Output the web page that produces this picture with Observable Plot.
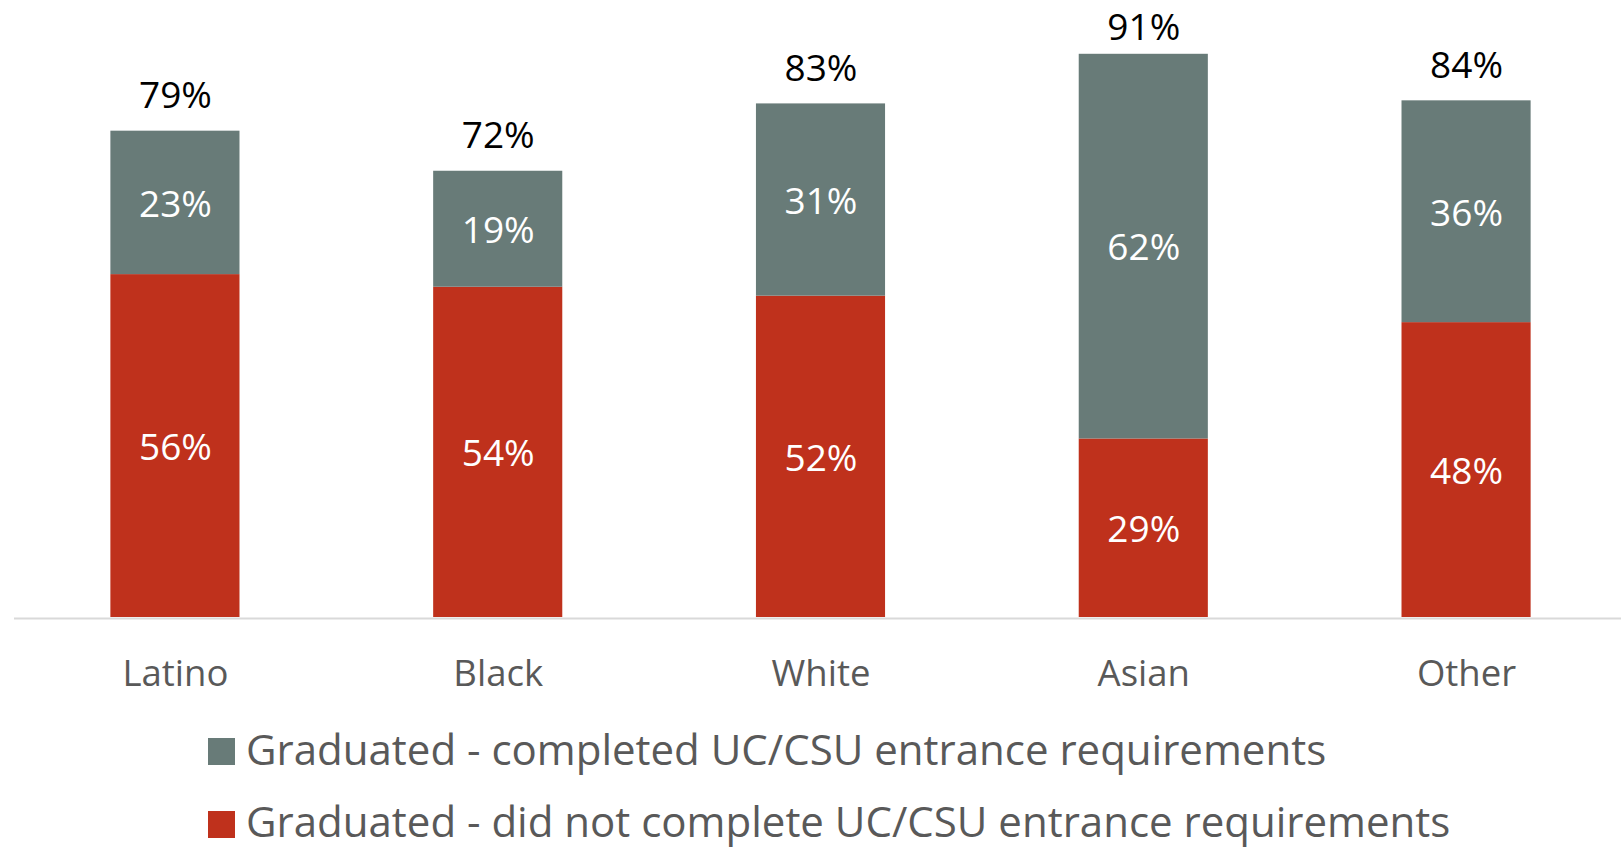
<!DOCTYPE html>
<html><head><meta charset="utf-8">
<script src="https://cdn.jsdelivr.net/npm/d3@7"></script>
<script src="https://cdn.jsdelivr.net/npm/@observablehq/plot@0.6"></script>
<style>
html,body{margin:0;padding:0;background:#fff;}
#chart svg{display:block;}
#legend{position:relative;width:1622px;height:148px;font-family:"Open Sans",sans-serif;}
.sw{position:absolute;left:208px;width:27px;height:27px;}
.lt{position:absolute;left:246px;font-size:42px;line-height:42px;color:#595959;white-space:nowrap;}
</style></head><body>
<div id="chart"></div><div id="legend"></div>
<script>
const groups = ["Latino","Black","White","Asian","Other"];
// Graduated - did not complete UC/CSU entrance requirements (%)
const notCompleted = [55.7, 53.65, 52.2, 29.0, 47.9];
// Graduated - completed UC/CSU entrance requirements (%)
const completed = [23.3, 18.84, 31.23, 62.49, 36.03];
const seriesNames = [
  "Graduated - completed UC/CSU entrance requirements",
  "Graduated - did not complete UC/CSU entrance requirements"
];
const seriesColors = ["#687b78","#bf311c"];

const rows = [];
groups.forEach((g,i)=>{
  rows.push({group:g, series:seriesNames[1], value:notCompleted[i]});
  rows.push({group:g, series:seriesNames[0], value:completed[i]});
});
const totalRows = groups.map((g,i)=>({group:g, total:notCompleted[i]+completed[i]}));
const stackOrder = [seriesNames[1], seriesNames[0]];
const pct = v => Math.round(v) + "%";

const chart = Plot.plot({
  width:1622, height:700,
  marginLeft:20, marginRight:1, marginTop:1.4, marginBottom:83,
  style:{fontFamily:"'Open Sans', sans-serif", fontSize:"37px", background:"#fff"},
  x:{domain:groups, paddingInner:0.6, paddingOuter:0.28, round:false, label:null},
  y:{domain:[0,100], axis:null},
  color:{domain:seriesNames, range:seriesColors},
  marks:[
    Plot.barY(rows, Plot.stackY({x:"group", y:"value", fill:"series", z:"series", order:stackOrder})),
    Plot.ruleY([0], {stroke:"#d9d9d9", strokeWidth:2, dy:1, insetLeft:-6}),
    Plot.text(rows, Plot.stackY({x:"group", y:"value", z:"series", order:stackOrder,
      text:d=>pct(d.value), fill:"#ffffff", fontSize:37, dy:2})),
    // total labels sit above the bar; like the source, they are kept inside the chart area near the top
    Plot.text(totalRows, {x:"group", y:d=>Math.min(d.total, 90), text:d=>pct(d.total), fill:"#000000",
      fontSize:37, lineAnchor:"bottom", dy:-23}),
    Plot.axisX({tickSize:0, tickPadding:43, fontSize:36.5, color:"#595959", label:null})
  ]
});
document.getElementById("chart").appendChild(chart);

const legend = document.getElementById("legend");
const swTops = [38,111];
const txtTops = [27.7,100.4];
seriesNames.forEach((name,i)=>{
  const sw = document.createElement("div");
  sw.className="sw"; sw.style.top=swTops[i]+"px"; sw.style.background=seriesColors[i];
  legend.appendChild(sw);
  const t = document.createElement("div");
  t.className="lt"; t.style.top=txtTops[i]+"px"; t.textContent=name;
  legend.appendChild(t);
});
</script>
</body></html>
